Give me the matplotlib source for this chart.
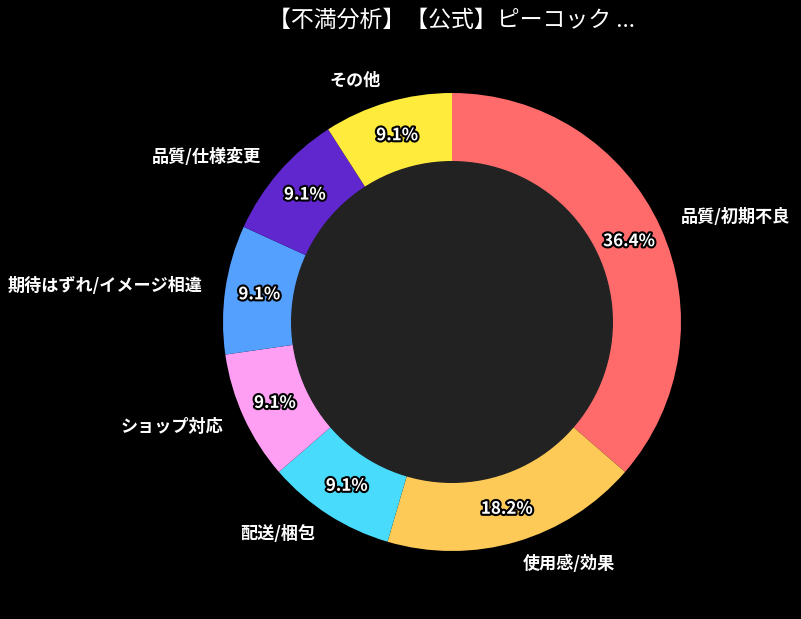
import matplotlib
matplotlib.use("Agg")
import matplotlib.pyplot as plt
import matplotlib.patheffects as pe

plt.rcParams['font.family'] = ['Noto Sans CJK JP', 'DejaVu Sans']

# dati del grafico
categorie = ["品質/初期不良", "使用感/効果", "配送/梱包", "ショップ対応",
             "期待はずれ/イメージ相違", "品質/仕様変更", "その他"]
conteggi = [4, 2, 1, 1, 1, 1, 1]
colori = ["#FF6B6B", "#FECA57", "#48DBFB", "#FF9FF3", "#54A0FF", "#5F27CD", "#FFEB3B"]
titolo = "【不満分析】【公式】ピーコック ..."

fig = plt.figure(figsize=(8.01, 6.19), dpi=100, facecolor="black")

# assi quadrati in pixel, centro torta a (452, 322), raggio 229 px
W, H = 801, 619
cx, cy, r = 452, 322, 229
ax = fig.add_axes([(cx - r) / W, (H - cy - r) / H, 2 * r / W, 2 * r / H])
ax.set_facecolor("black")

wedges, testi, autotesti = ax.pie(
    conteggi, labels=categorie, colors=colori, startangle=90, counterclock=False,
    autopct="%1.1f%%", pctdistance=0.85, labeldistance=1.1,
    wedgeprops=dict(linewidth=0),
    textprops=dict(color="white", fontsize=12.3, fontweight="bold"))

for t in autotesti:
    t.set_fontsize(12.2)
    t.set_path_effects([pe.withStroke(linewidth=3, foreground="black")])

# cerchio interno della ciambella
ax.add_patch(plt.Circle((0, 0), 0.7, color="#222222", zorder=3))

ax.set_xlim(-1, 1)
ax.set_ylim(-1, 1)
ax.set_aspect("auto")
ax.axis("off")

fig.text(451 / W, 1 - 20 / H, titolo, color="white", fontsize=16.5,
         ha="center", va="center")

fig.savefig("out.png", dpi=100, facecolor="black")
